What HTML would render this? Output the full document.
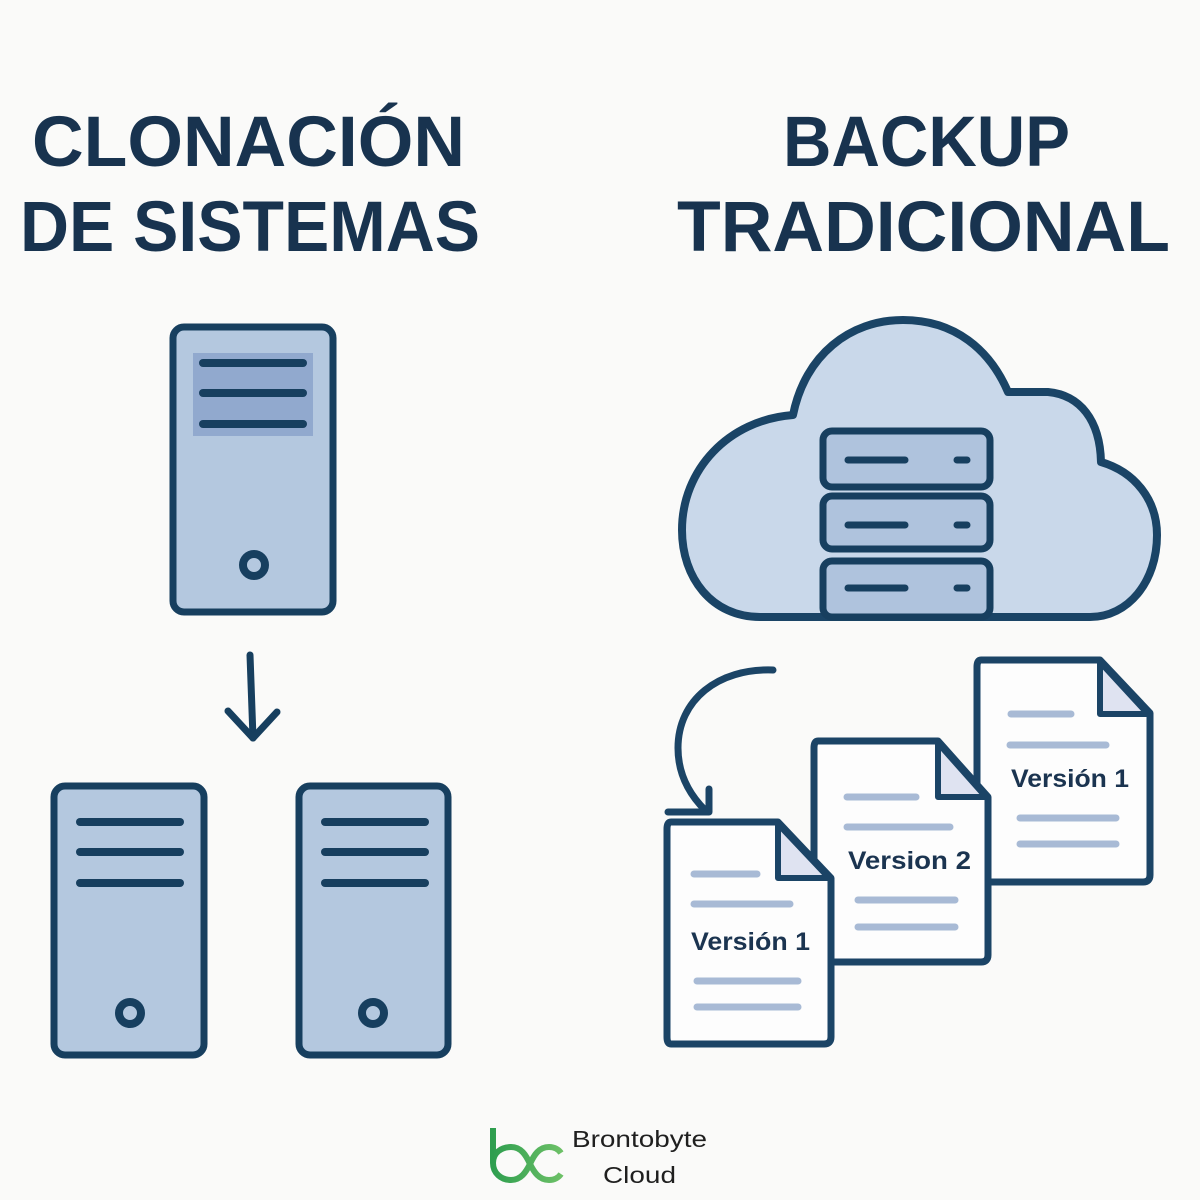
<!DOCTYPE html>
<html>
<head>
<meta charset="utf-8">
<style>
  html,body{margin:0;padding:0;background:#fafaf9;}
  svg{display:block;}
  .t{font-family:"Liberation Sans",sans-serif;font-weight:bold;fill:#18334f;}
  .lbl{font-family:"Liberation Sans",sans-serif;font-weight:bold;fill:#1b3450;}
  .logo{font-family:"Liberation Sans",sans-serif;font-weight:normal;fill:#1f1f1f;}
</style>
</head>
<body>
<svg width="1200" height="1200" viewBox="0 0 1200 1200" xmlns="http://www.w3.org/2000/svg">
  <rect x="0" y="0" width="1200" height="1200" fill="#fafaf9"/>

  <!-- Titles -->
  <text class="t" x="32" y="166" font-size="71" textLength="433" lengthAdjust="spacingAndGlyphs">CLONACIÓN</text>
  <text class="t" x="20" y="251" font-size="71" textLength="460" lengthAdjust="spacingAndGlyphs">DE SISTEMAS</text>
  <text class="t" x="783" y="166" font-size="71" textLength="287" lengthAdjust="spacingAndGlyphs">BACKUP</text>
  <text class="t" x="677" y="251" font-size="71" textLength="493" lengthAdjust="spacingAndGlyphs">TRADICIONAL</text>

  <!-- Top server -->
  <rect x="173" y="327" width="160" height="285" rx="11" fill="#b4c8df" stroke="#173f5f" stroke-width="7"/>
  <rect x="193" y="353" width="120" height="83" fill="#91a9ce"/>
  <g stroke="#173f5f" stroke-width="8" stroke-linecap="round">
    <line x1="203" y1="363" x2="303" y2="363"/>
    <line x1="203" y1="393" x2="303" y2="393"/>
    <line x1="203" y1="424" x2="303" y2="424"/>
  </g>
  <circle cx="254" cy="565" r="11" fill="#b4c8df" stroke="#173f5f" stroke-width="8"/>

  <!-- Down arrow -->
  <g stroke="#173f5f" stroke-width="7" stroke-linecap="round" stroke-linejoin="round" fill="none">
    <line x1="250" y1="655" x2="253" y2="738"/>
    <polyline points="228,711 253,738 277,712"/>
  </g>

  <!-- Bottom servers -->
  <rect x="54" y="786" width="150" height="269" rx="11" fill="#b4c8df" stroke="#173f5f" stroke-width="7"/>
  <g stroke="#173f5f" stroke-width="8" stroke-linecap="round">
    <line x1="80" y1="822" x2="180" y2="822"/>
    <line x1="80" y1="852" x2="180" y2="852"/>
    <line x1="80" y1="883" x2="180" y2="883"/>
  </g>
  <circle cx="130" cy="1013" r="11" fill="#b4c8df" stroke="#173f5f" stroke-width="8"/>

  <rect x="299" y="786" width="149" height="269" rx="11" fill="#b4c8df" stroke="#173f5f" stroke-width="7"/>
  <g stroke="#173f5f" stroke-width="8" stroke-linecap="round">
    <line x1="325" y1="822" x2="425" y2="822"/>
    <line x1="325" y1="852" x2="425" y2="852"/>
    <line x1="325" y1="883" x2="425" y2="883"/>
  </g>
  <circle cx="373" cy="1013" r="11" fill="#b4c8df" stroke="#173f5f" stroke-width="8"/>

  <!-- Cloud -->
  <path d="M 800 617 L 760 617 C 712 617 682 578 682 530 C 682 470 728 420 793 415 C 805 355 850 320 903 320 C 955 320 990 350 1008 392 L 1048 392 C 1080 395 1100 420 1101 462 C 1135 472 1157 500 1157 535 C 1157 582 1128 617 1090 617 Z"
        fill="#c9d8ea" stroke="#1a4466" stroke-width="8" stroke-linejoin="round"/>

  <!-- Server stack in cloud -->
  <g fill="#afc3dd" stroke="#173f5f" stroke-width="7">
    <rect x="823" y="431" width="167" height="56" rx="9"/>
    <rect x="823" y="496" width="167" height="53" rx="9"/>
    <rect x="823" y="561" width="167" height="56" rx="9"/>
  </g>
  <g stroke="#173f5f" stroke-width="7" stroke-linecap="round">
    <line x1="848" y1="460" x2="905" y2="460"/>
    <line x1="957" y1="460" x2="967" y2="460"/>
    <line x1="848" y1="525" x2="905" y2="525"/>
    <line x1="957" y1="525" x2="967" y2="525"/>
    <line x1="848" y1="588" x2="905" y2="588"/>
    <line x1="957" y1="588" x2="967" y2="588"/>
  </g>

  <!-- Back doc (Versión 1) -->
  <path d="M 981 660 L 1100 660 L 1150 713 L 1150 875 Q 1150 882 1143 882 L 981 882 Q 977 882 977 875 L 977 667 Q 977 660 981 660 Z"
        fill="#fdfdfd" stroke="#1b4466" stroke-width="7" stroke-linejoin="round"/>
  <path d="M 1100 662 L 1100 714 L 1148 714 Z" fill="#dfe3f1" stroke="#1b4466" stroke-width="6" stroke-linejoin="round"/>
  <g stroke="#a8bad5" stroke-width="7" stroke-linecap="round">
    <line x1="1011" y1="714" x2="1071" y2="714"/>
    <line x1="1010" y1="745" x2="1106" y2="745"/>
    <line x1="1020" y1="818" x2="1116" y2="818"/>
    <line x1="1020" y1="844" x2="1116" y2="844"/>
  </g>
  <text class="lbl" x="1011" y="787" font-size="25" textLength="118" lengthAdjust="spacingAndGlyphs">Versión 1</text>

  <!-- Middle doc (Version 2) -->
  <path d="M 818 741 L 938 741 L 988 797 L 988 955 Q 988 962 981 962 L 818 962 Q 814 962 814 955 L 814 748 Q 814 741 818 741 Z"
        fill="#fdfdfd" stroke="#1b4466" stroke-width="7" stroke-linejoin="round"/>
  <path d="M 938 743 L 938 797 L 986 797 Z" fill="#dfe3f1" stroke="#1b4466" stroke-width="6" stroke-linejoin="round"/>
  <g stroke="#a8bad5" stroke-width="7" stroke-linecap="round">
    <line x1="847" y1="797" x2="916" y2="797"/>
    <line x1="847" y1="827" x2="950" y2="827"/>
    <line x1="858" y1="900" x2="955" y2="900"/>
    <line x1="858" y1="927" x2="955" y2="927"/>
  </g>
  <text class="lbl" x="848" y="869" font-size="25" textLength="123" lengthAdjust="spacingAndGlyphs">Version 2</text>

  <!-- Front doc (Versión 1) -->
  <path d="M 671 822 L 778 822 L 831 878 L 831 1037 Q 831 1044 824 1044 L 671 1044 Q 667 1044 667 1037 L 667 829 Q 667 822 671 822 Z"
        fill="#fdfdfd" stroke="#1b4466" stroke-width="7" stroke-linejoin="round"/>
  <path d="M 778 824 L 778 878 L 829 878 Z" fill="#dfe3f1" stroke="#1b4466" stroke-width="6" stroke-linejoin="round"/>
  <g stroke="#a8bad5" stroke-width="7" stroke-linecap="round">
    <line x1="694" y1="874" x2="757" y2="874"/>
    <line x1="694" y1="904" x2="790" y2="904"/>
    <line x1="697" y1="981" x2="798" y2="981"/>
    <line x1="697" y1="1007" x2="798" y2="1007"/>
  </g>
  <text class="lbl" x="691" y="950" font-size="25" textLength="119" lengthAdjust="spacingAndGlyphs">Versión 1</text>

  <!-- Curved arrow -->
  <g stroke="#1b4466" stroke-width="7" stroke-linecap="round" stroke-linejoin="round" fill="none">
    <path d="M 773 670 C 718 668 678 700 678 748 C 678 775 690 795 705 810"/>
    <polyline points="709,789 709,812 668,812"/>
  </g>

  <!-- Logo -->
  <defs>
    <linearGradient id="g" x1="0" y1="0" x2="1" y2="0">
      <stop offset="0" stop-color="#2e9e4f"/>
      <stop offset="1" stop-color="#6cc067"/>
    </linearGradient>
  </defs>
  <g stroke="url(#g)" stroke-width="6" fill="none" stroke-linecap="butt">
    <path d="M 493 1128 V 1163 C 493 1173 501 1180 511 1180 C 521 1180 526 1172 530 1164 C 534 1155 539 1147 549 1147 C 555 1147 559 1150 561 1153"/>
    <path d="M 493 1163 C 493 1153 501 1147 511 1147 C 521 1147 526 1155 530 1164 C 534 1172 539 1180 549 1180 C 555 1180 559 1177 561 1174"/>
  </g>
  <text class="logo" x="572" y="1147" font-size="23" textLength="135" lengthAdjust="spacingAndGlyphs">Brontobyte</text>
  <text class="logo" x="603" y="1183" font-size="23" textLength="73" lengthAdjust="spacingAndGlyphs">Cloud</text>
</svg>
</body>
</html>
